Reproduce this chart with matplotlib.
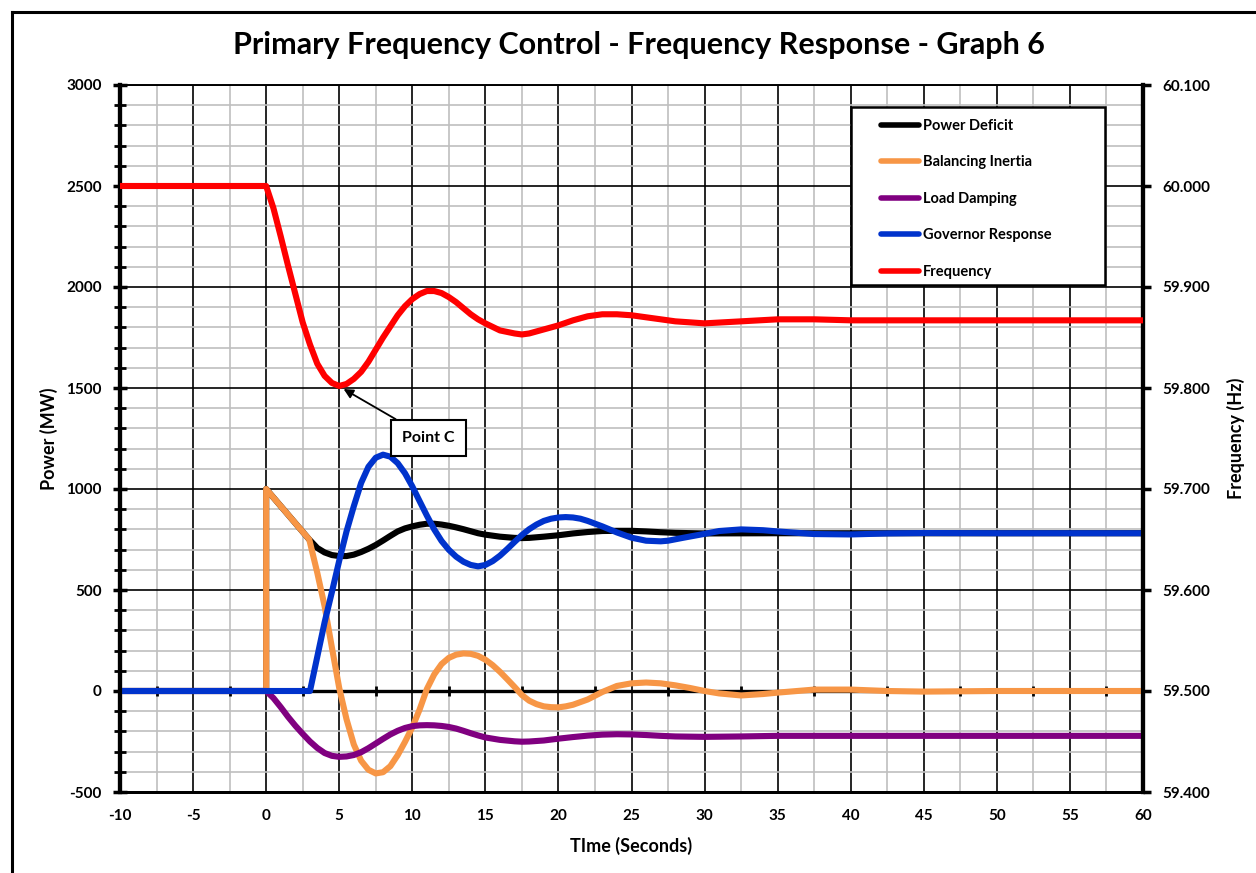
import matplotlib
matplotlib.use("Agg")
import matplotlib.pyplot as plt
from matplotlib.lines import Line2D
from matplotlib.patches import Rectangle
from matplotlib.ticker import MultipleLocator, FormatStrFormatter

plt.rcParams['font.family'] = ['Lato', 'DejaVu Sans']
plt.rcParams['font.weight'] = 'bold'
plt.rcParams['axes.unicode_minus'] = False

# ---- data ----
freq_t = [-10, 0, 0.5, 1, 1.5, 2, 2.5, 3, 3.5, 4, 4.5, 5, 5.5, 6, 6.5, 7, 7.5, 8, 8.5, 9,
          9.5, 10, 10.5, 11, 11.5, 12, 12.5, 13, 13.5, 14, 14.5, 15, 16, 17, 17.5, 18, 19,
          20, 21, 22, 23, 24, 25, 26, 27, 28, 30, 32.5, 35, 37.5, 40, 45, 50, 55, 60]
freq_hz = [60.000, 60.000, 59.978, 59.950, 59.921, 59.893, 59.865, 59.843, 59.824, 59.812,
           59.805, 59.802, 59.804, 59.809, 59.816, 59.826, 59.838, 59.850, 59.861, 59.872,
           59.881, 59.888, 59.893, 59.896, 59.896, 59.894, 59.890, 59.885, 59.879, 59.873,
           59.868, 59.864, 59.857, 59.854, 59.853, 59.854, 59.858, 59.862, 59.867, 59.871,
           59.873, 59.873, 59.872, 59.870, 59.868, 59.866, 59.864, 59.866, 59.868, 59.868,
           59.867, 59.867, 59.867, 59.867, 59.867]

gov_t = [-10, 3, 3.5, 4, 4.5, 5, 5.5, 6, 6.5, 7, 7.5, 8, 8.5, 9, 9.5, 10, 10.5, 11, 11.5,
         12, 12.5, 13, 13.5, 14, 14.5, 15, 15.5, 16, 16.5, 17, 17.5, 18, 18.5, 19, 19.5, 20,
         20.5, 21, 21.5, 22, 23, 24, 25, 26, 27, 27.5, 28.5, 30, 31, 32.5, 34, 35, 37.5, 40,
         42.5, 45, 50, 60]
gov_mw = [0, 0, 170, 340, 490, 645, 790, 915, 1030, 1110, 1155, 1170, 1160, 1128, 1078, 1013,
          940, 868, 800, 743, 699, 665, 640, 624, 617, 624, 643, 670, 703, 738, 772, 801, 824,
          842, 853, 859, 861, 859, 853, 842, 815, 785, 759, 744, 741, 744, 758, 778, 792, 800,
          796, 790, 777, 775, 780, 782, 781, 781]

deficit_t = [-10, 0, 0, 2.95, 3.5, 4, 4.5, 5, 5.5, 6, 6.5, 7, 7.5, 8, 8.5, 9, 9.5, 10, 10.5,
             11, 11.5, 12, 12.5, 13, 13.5, 14, 14.5, 15, 16, 17, 17.5, 18, 19, 20, 21, 22,
             23, 24, 25, 26, 27, 28, 30, 35, 60]
deficit_mw = [0, 0, 1000, 750, 708, 686, 673, 668, 668, 675, 688, 704, 723, 745, 768, 790,
              805, 815, 823, 828, 828, 824, 818, 810, 801, 791, 781, 774, 764, 758, 757, 758,
              764, 771, 780, 787, 792, 793, 793, 790, 786, 783, 780, 781, 781]

inertia_t = [-10, 0, 0, 2.95, 3.5, 4, 4.5, 5, 5.5, 6, 6.5, 7, 7.5, 8, 8.5, 9, 9.5, 10, 10.5,
             11, 11.5, 12, 12.5, 13, 13.5, 14, 14.5, 15, 15.5, 16, 16.5, 17, 17.5, 18, 18.5,
             19, 19.5, 20, 20.5, 21, 22, 23, 24, 25, 26, 27, 28, 29, 30, 31, 32.5, 34, 35,
             37.5, 40, 42.5, 45, 50, 60]
inertia_mw = [0, 0, 1000, 750, 585, 420, 215, 15, -140, -265, -345, -390, -408, -402, -372,
              -318, -252, -180, -92, 10, 82, 133, 164, 180, 186, 184, 174, 155, 128, 95, 58,
              20, -20, -48, -65, -76, -80, -81, -76, -68, -42, -5, 25, 38, 42, 38, 28, 15, 0,
              -12, -22, -15, -8, 7, 7, 0, -3, 0, 0]

damping_t = [-10, 0, 0.5, 1, 1.5, 2, 2.5, 3, 3.5, 4, 4.5, 5, 5.5, 6, 6.5, 7, 7.5, 8, 8.5, 9,
             9.5, 10, 10.5, 11, 11.5, 12, 12.5, 13, 13.5, 14, 14.5, 15, 16, 17, 17.5, 18, 19,
             20, 21, 22, 23, 24, 25, 26, 27, 28, 30, 32.5, 35, 40, 60]
damping_mw = [0, 0, -35, -80, -128, -172, -212, -250, -282, -307, -321, -326, -324, -317,
              -303, -283, -260, -237, -215, -197, -183, -174, -170, -169, -170, -173, -178,
              -186, -197, -209, -220, -230, -242, -249, -251, -250, -245, -236, -228, -221,
              -216, -214, -215, -218, -222, -225, -227, -225, -222, -222, -222]

fig = plt.figure(figsize=(12.56, 8.73), dpi=100)
ax = fig.add_axes([120/1256, 81/873, 1023/1256, 707/873])
ax2 = ax.twinx()

lw = 4.4
l1, = ax.plot(deficit_t, deficit_mw, color='black', lw=lw, label='Power Deficit', zorder=3)
l2, = ax.plot(inertia_t, inertia_mw, color='#f79646', lw=lw, label='Balancing Inertia', zorder=4)
l3, = ax.plot(damping_t, damping_mw, color='#800080', lw=lw, label='Load Damping', zorder=5)
l4, = ax.plot(gov_t, gov_mw, color='#0033cc', lw=lw, label='Governor Response', zorder=6)
l5, = ax2.plot(freq_t, freq_hz, color='#ff0000', lw=lw, label='Frequency', zorder=3)
for ln in (l1, l2, l3, l4, l5):
    ln.set_solid_joinstyle('round')

ax.set_xlim(-10, 60)
ax.set_ylim(-500, 3000)
ax2.set_ylim(59.4, 60.1)

ax.xaxis.set_major_locator(MultipleLocator(5))
ax.xaxis.set_minor_locator(MultipleLocator(2.5))
ax.yaxis.set_major_locator(MultipleLocator(500))
ax.yaxis.set_minor_locator(MultipleLocator(100))
ax2.yaxis.set_major_locator(MultipleLocator(0.1))
ax2.yaxis.set_major_formatter(FormatStrFormatter('%.3f'))

ax.grid(which='minor', color='#bfbfbf', lw=1.2, zorder=0)
ax.grid(which='major', color='black', lw=1.2, zorder=0)
ax.set_axisbelow(True)

# zero line with small tick marks
ax.axhline(0, color='black', lw=2.4, zorder=2)
xt = [x for x in ax.xaxis.get_minorticklocs() if -10 < x < 60]
ax.plot(xt, [0] * len(xt), ls='none', marker='|', ms=7, mew=2, color='black', zorder=2)

for s in ['left', 'right']:
    ax.spines[s].set_linewidth(3)
    ax2.spines[s].set_linewidth(3)
ax.spines['bottom'].set_linewidth(2)
ax2.spines['bottom'].set_linewidth(2)
ax.spines['top'].set_linewidth(1.2)
ax2.spines['top'].set_linewidth(1.2)

ax.tick_params(axis='x', which='both', length=0, labelsize=11, pad=12)
ax.tick_params(axis='y', which='major', direction='inout', length=10, width=2.5, labelsize=11, pad=8)
ax.tick_params(axis='y', which='minor', direction='inout', length=8, width=2)
ax2.tick_params(axis='y', which='major', direction='out', length=6, width=2.5, labelsize=11, pad=8)
for lbl in ax.get_xticklabels() + ax.get_yticklabels() + ax2.get_yticklabels():
    lbl.set_fontweight('bold')

ax.set_xlabel('TIme (Seconds)', fontsize=13, fontweight='bold', labelpad=10)
ax.set_ylabel('Power (MW)', fontsize=13, fontweight='bold', labelpad=6)
ax2.set_ylabel('Frequency (Hz)', fontsize=13, fontweight='bold', rotation=90, labelpad=12)

fig.text(0.509, 0.948, 'Primary Frequency Control - Frequency Response - Graph 6',
         fontsize=22, fontweight='bold', ha='center', va='center')

# legend box drawn separately, entries placed inside it
ax2.add_patch(Rectangle((0.7146, 0.717), 0.2486, 0.252, transform=ax2.transAxes,
                        facecolor='white', edgecolor='black', lw=1.8, zorder=4.5))
leg = ax2.legend(handles=[l1, l2, l3, l4, l5], loc='upper left',
                 bbox_to_anchor=(0.744, 0.952), frameon=False,
                 fontsize=10.5, borderpad=0, labelspacing=1.54, handlelength=2.6,
                 handletextpad=0.25, borderaxespad=0)
leg.set_zorder(6)
for h in leg.legend_handles:
    h.set_solid_capstyle('round')
    h.set_linewidth(4)
for txt in leg.get_texts():
    txt.set_fontweight('bold')

ax.annotate('Point C', xy=(5.3, 1495), xytext=(11.1, 1252), ha='center', va='center',
            fontsize=11.5, fontweight='bold', zorder=10,
            bbox=dict(boxstyle='square,pad=0.7', fc='white', ec='black', lw=1.5),
            arrowprops=dict(arrowstyle='-|>', color='black', lw=1.3, mutation_scale=14,
                            shrinkA=0, shrinkB=0))

# outer chart frame (cropped at bottom and right)
fig.add_artist(Line2D([12/1256, 12/1256], [0, 1 - 12/873], transform=fig.transFigure,
                      color='black', lw=2.2))
fig.add_artist(Line2D([12/1256, 1], [1 - 12/873, 1 - 12/873], transform=fig.transFigure,
                      color='black', lw=2.2))

fig.savefig('out.png', dpi=100)
